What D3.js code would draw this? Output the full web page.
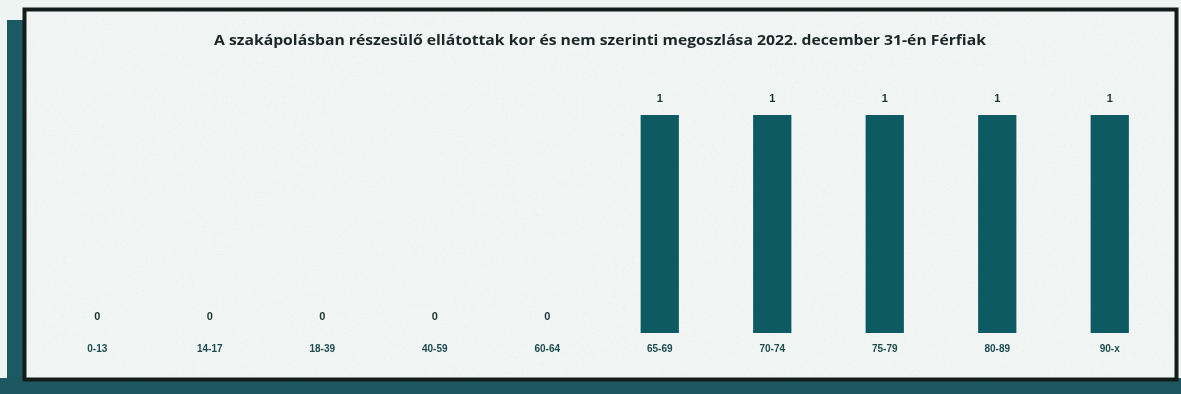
<!DOCTYPE html>
<html>
<head>
<meta charset="utf-8">
<script src="https://cdn.jsdelivr.net/npm/d3@7"></script>
<style>
  html, body { margin: 0; padding: 0; background: #eef4f2; }
  svg { display: block; }
</style>
</head>
<body>
<svg id="chart" width="1181" height="394"></svg>
<script>
// Age groups and number of male recipients per group
const categories = ["0-13", "14-17", "18-39", "40-59", "60-64", "65-69", "70-74", "75-79", "80-89", "90-x"];
const values = [0, 0, 0, 0, 0, 1, 1, 1, 1, 1];
const title = "A szakápolásban részesülő ellátottak kor és nem szerinti megoszlása 2022. december 31-én Férfiak";

const svg = d3.select("#chart");
const W = 1181, H = 394;

// page background and the dark framing bands
svg.append("rect").attr("width", W).attr("height", H).attr("fill", "#edf4f2");
svg.append("rect").attr("x", 7).attr("y", 20).attr("width", 20).attr("height", H - 20).attr("fill", "#1b5a62");
svg.append("rect").attr("x", 0).attr("y", 378).attr("width", W).attr("height", 16).attr("fill", "#1d5861");

// chart panel with a dark border
svg.append("rect")
  .attr("x", 24.5).attr("y", 9.5).attr("width", 1152).attr("height", 370)
  .attr("fill", "#f1f6f4").attr("stroke", "#141c1c").attr("stroke-width", 4);

// light speckle so the panel is not flat
const defs = svg.append("defs");
const f = defs.append("filter").attr("id", "grain").attr("x", 0).attr("y", 0).attr("width", "100%").attr("height", "100%");
f.append("feTurbulence").attr("type", "fractalNoise").attr("baseFrequency", 0.9).attr("numOctaves", 2).attr("seed", 3).attr("result", "n");
f.append("feColorMatrix").attr("in", "n").attr("type", "matrix")
  .attr("values", "0 0 0 0 0.45  0 0 0 0 0.62  0 0 0 0 0.66  0 0 0 -1.6 0.75");
svg.append("rect").attr("x", 27).attr("y", 12).attr("width", 1147).attr("height", 365)
  .attr("filter", "url(#grain)").attr("opacity", 0.35);

const soft = defs.append("filter").attr("id", "soft");
soft.append("feGaussianBlur").attr("stdDeviation", 0.45);

// scales
const x = d3.scaleBand().domain(categories).range([41, 1166]).paddingInner(0.66).paddingOuter(0.33);
const y = d3.scaleLinear().domain([0, 1]).range([333, 115]);

// title
svg.append("text")
  .attr("x", 600).attr("y", 45)
  .attr("text-anchor", "middle")
  .attr("font-family", "'Open Sans', 'Noto Sans', sans-serif")
  .attr("font-weight", 700)
  .attr("font-size", 14)
  .attr("textLength", 772)
  .attr("lengthAdjust", "spacingAndGlyphs")
  .attr("fill", "#1b2626")
  .attr("filter", "url(#soft)")
  .text(title);

const data = categories.map((c, i) => ({ c, v: values[i] }));

// bars
svg.append("g").selectAll("rect").data(data).join("rect")
  .attr("x", d => x(d.c))
  .attr("y", d => y(d.v))
  .attr("width", x.bandwidth())
  .attr("height", d => y(0) - y(d.v))
  .attr("fill", "#0d5a62");

// value labels above each bar
svg.append("g").selectAll("text").data(data).join("text")
  .attr("x", d => x(d.c) + x.bandwidth() / 2)
  .attr("y", d => y(d.v) - 13)
  .attr("text-anchor", "middle")
  .attr("font-family", "'Liberation Sans', Arial, sans-serif")
  .attr("font-weight", 700)
  .attr("font-size", 11)
  .attr("fill", "#1e3234")
  .attr("filter", "url(#soft)")
  .text(d => d.v);

// category axis labels
const axis = d3.axisBottom(x).tickSize(0).tickPadding(0);
const gx = svg.append("g").attr("transform", "translate(0,348)").call(axis);
gx.select(".domain").remove();
gx.selectAll("text")
  .attr("dy", "0.35em")
  .attr("font-family", "'Liberation Sans Narrow', 'Liberation Sans', Arial, sans-serif")
  .attr("font-weight", 700)
  .attr("font-size", 10)
  .attr("fill", "#1e4a50")
  .attr("filter", "url(#soft)");
</script>
</body>
</html>
